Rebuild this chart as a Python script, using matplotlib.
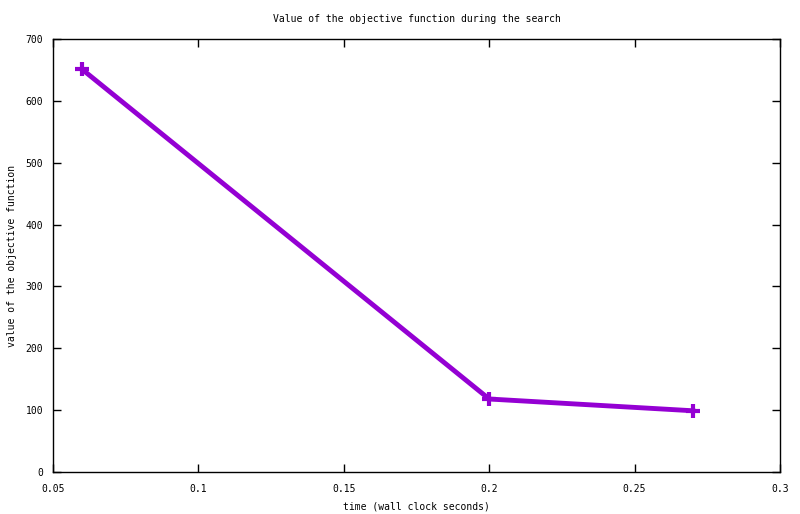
import matplotlib
matplotlib.use("Agg")
import matplotlib.pyplot as plt

times = [0.06, 0.2, 0.27]
values = [651, 118, 99]
xticks = [0.05, 0.1, 0.15, 0.2, 0.25, 0.3]
xticklabels = ["0.05", "0.1", "0.15", "0.2", "0.25", "0.3"]
yticks = [0, 100, 200, 300, 400, 500, 600, 700]

plt.rcParams['font.family'] = ['DejaVu Sans Mono']
plt.rcParams['font.size'] = 7

fig = plt.figure(figsize=(8, 5.14), dpi=100)
ax = fig.add_axes([53/800, 42/514, 727/800, 433/514])
ax.plot(times, values, color='#9400D3', linewidth=3.5, marker='+', markersize=10, markeredgewidth=3)
ax.set_xlim(0.05, 0.3)
ax.set_ylim(0, 700)
ax.set_xticks(xticks)
ax.set_xticklabels(xticklabels)
ax.set_yticks(yticks)
ax.tick_params(axis='x', direction='in', top=True, length=6, width=1, pad=9)
ax.tick_params(axis='y', direction='in', right=True, length=6, width=1, pad=7)
for s in ax.spines.values():
    s.set_linewidth(1)
ax.set_title("Value of the objective function during the search", fontsize=7, pad=12)
ax.set_xlabel("time (wall clock seconds)", labelpad=5)
ax.set_ylabel("value of the objective function", labelpad=6)
fig.savefig("out.png", dpi=100)
